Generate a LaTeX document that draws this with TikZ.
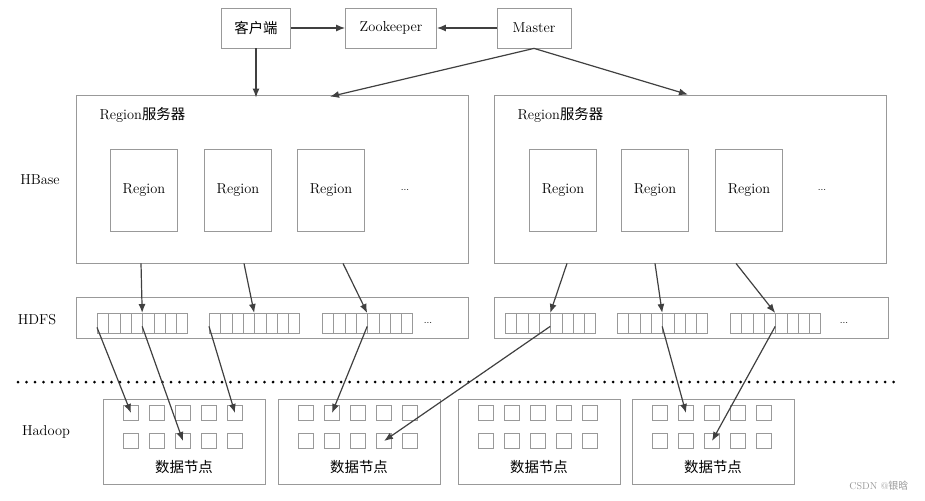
\documentclass[tikz,border=0pt]{standalone}
\usepackage{fontspec}
\newfontfamily\cjk{Noto Sans CJK SC}
\usetikzlibrary{positioning,arrows.meta}
\definecolor{boxgray}{rgb}{0.6,0.6,0.6}
\definecolor{arrowgray}{rgb}{0.25,0.25,0.25}
\tikzset{
  box/.style={draw=boxgray,thick,rectangle,inner sep=0pt},
  topbox/.style={box,minimum height=40pt,font=\Large},
  cell/.style={draw=boxgray,thick,rectangle,minimum width=11.3pt,minimum height=20pt,inner sep=0pt},
  sq/.style={draw=boxgray,thick,rectangle,minimum size=15pt,inner sep=0pt},
  arr/.style={draw=arrowgray,very thick,-{Latex[length=9pt,width=7pt]}}
}
\begin{document}
\begin{tikzpicture}[x=1pt,y=-1pt]
\useasboundingbox (0,0) rectangle (925,500);

		% top row
		\node[topbox,minimum width=69pt] (client) at (256,28) {\cjk 客户端};
		\node[topbox,minimum width=91pt] (zk) at (391,28) {Zookeeper};
		\node[topbox,minimum width=74pt] (master) at (534,28) {Master};
		
		% region servers
		\node[box,minimum width=392pt,minimum height=168pt] (rsL) at (272,179) {};
		\node[box,minimum width=392pt,minimum height=168pt] (rsR) at (690,179) {};
		\node[font=\Large,anchor=west] at (96,115) {Region{\cjk 服务器}};
		\node[font=\Large,anchor=west] at (514,115) {Region{\cjk 服务器}};
		\foreach \x/\n in {144/L1,238/L2,331/L3,563/R1,655/R2,749/R3}
		\node[box,minimum width=67pt,minimum height=82pt,font=\Large] (reg\n) at (\x,190) {Region};
		\node at (405,190) {...};
		\node at (822,190) {...};
		
		% labels
		\node[font=\Large] at (40,180) {HBase};
		\node[font=\Large] at (37,320) {HDFS};
		\node[font=\Large] at (46,432) {Hadoop};
		
		% hdfs
		\node[box,minimum width=392pt,minimum height=41pt] (hdfsL) at (272,318) {};
		\node[box,minimum width=394pt,minimum height=41pt] (hdfsR) at (691,318) {};
		\foreach \x/\n in {97/L1,209/L2,322/L3,505/R1,617/R2,730/R3}{
		  \foreach \i in {0,...,7}
		  \node[cell,anchor=north west] (blk\n-\i) at (\x+\i*11.3,313) {};
		}
		\node at (428,323) {...};
		\node at (844,323) {...};
		
		\draw[line width=3pt,line cap=round,dash pattern=on 0pt off 8.5pt] (18,382) -- (900,382);
		
		% data nodes
		\foreach \x/\n in {184/1,359/2,539/3,713/4}{
		  \node[box,minimum width=162pt,minimum height=85pt] (dn\n) at (\x,442) {};
		  \node[font=\Large] at (\x,467) {\cjk 数据节点};
		  \foreach \c in {1,...,5}{
		    \node[sq] (sq\n-1-\c) at (\x-79+\c*26,413) {};
		    \node[sq] (sq\n-2-\c) at (\x-79+\c*26,441) {};
		  }
		}
		
		% arrows
		\draw[arr] (client) -- (zk);
		\draw[arr] (master) -- (zk);
		\draw[arr] (client.south) -- ([yshift=-3pt]client.south |- rsL.north);
		\draw[arr] (master.south) -- ([xshift=58pt,yshift=-2pt]rsL.north);
		\draw[arr] (master.south) -- ([xshift=-2pt]rsR.north);
		
		\draw[arr] ([xshift=-131pt]rsL.south) -- (blkL1-4.north west);
		\draw[arr] ([xshift=-28pt]rsL.south) -- (blkL2-4.north west);
		\draw[arr] ([xshift=71pt]rsL.south) -- (blkL3-4.north west);
		\draw[arr] ([xshift=-123pt]rsR.south) -- (blkR1-4.north west);
		\draw[arr] ([xshift=-35pt]rsR.south) -- (blkR2-4.north west);
		\draw[arr] ([xshift=46pt]rsR.south) -- (blkR3-4.north west);
		
		\draw[arr] ([yshift=-4pt]blkL1-0.west) -- (sq1-1-1.center);
		\draw[arr] ([yshift=-3pt]blkL1-4.west) -- (sq1-2-3.center);
		\draw[arr] ([yshift=-3pt]blkL2-0.west) -- (sq1-1-5.center);
		\draw[arr] ([yshift=-3pt]blkL3-4.west) -- (sq2-1-2.center);
		\draw[arr] ([yshift=-3pt]blkR1-4.west) -- (sq2-2-4.center);
		\draw[arr] ([yshift=-3pt]blkR2-4.west) -- (sq4-1-2.center);
		\draw[arr] ([yshift=-3pt]blkR3-4.west) -- (sq4-2-3.center);
		
		\node[text=boxgray,anchor=east] at (912,486) {CSDN @{\cjk 银晗}};
\end{tikzpicture}
\end{document}
